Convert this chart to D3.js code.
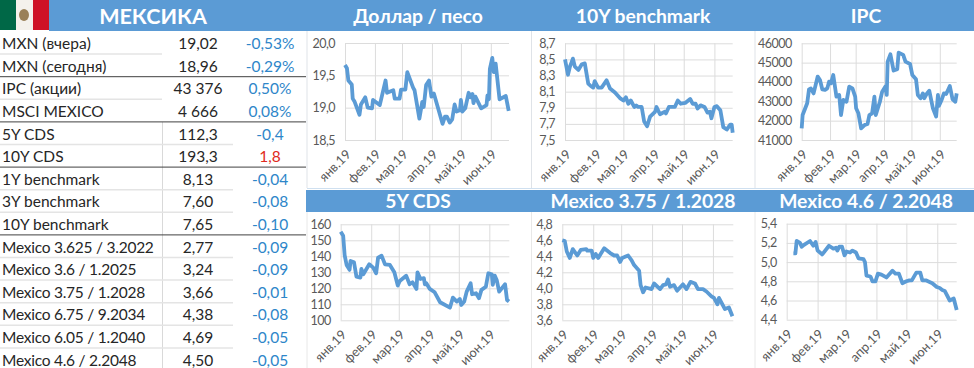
<!DOCTYPE html>
<html>
<head>
<meta charset="utf-8">
<script src="https://cdn.jsdelivr.net/npm/d3@7"></script>
<style>
  body { margin: 0; background: #fff; }
  svg { display: block; font-family: Lato, sans-serif; }
</style>
</head>
<body>
<svg id="chart" width="974" height="368"></svg>
<script>
const rowLabels = ["MXN (вчера)", "MXN (сегодня)", "IPC (акции)", "MSCI MEXICO", "5Y CDS", "10Y CDS",
  "1Y benchmark", "3Y benchmark", "10Y benchmark", "Mexico 3.625 / 3.2022", "Mexico 3.6 / 1.2025",
  "Mexico 3.75 / 1.2028", "Mexico 6.75 / 9.2034", "Mexico 6.05 / 1.2040", "Mexico 4.6 / 2.2048"];
const rowValues = ["19,02", "18,96", "43 376", "4 666", "112,3", "193,3", "8,13", "7,60", "7,65",
  "2,77", "3,24", "3,66", "4,38", "4,69", "4,50"];
const rowChanges = ["-0,53%", "-0,29%", "0,50%", "0,08%", "-0,4", "1,8", "-0,04", "-0,08", "-0,10",
  "-0,09", "-0,09", "-0,01", "-0,08", "-0,05", "-0,05"];
const groupEnds = [1, 3, 5, 8];

const monthDays = [0, 31, 59, 90, 120, 151];
const monthLabels = ["янв.19", "фев.19", "мар.19", "апр.19", "май.19", "июн.19"];

const usdDays = [0, 2, 3.5, 7, 8, 10, 15, 16.5, 21, 23.5, 28, 29, 36, 42, 43.5, 50, 51.5, 56.5, 58, 62.5, 64.5, 70.5, 72, 77, 80, 81.5, 84, 87, 89.5, 92, 101, 103.5, 105.5, 108.5, 111, 113.5, 115.5, 119, 120, 121.5, 124.5, 128, 130, 132, 133, 135, 141, 146.5, 147.5, 149, 150, 152.5, 154, 156, 160, 166.5, 169.5];
const usdValues = [19.66, 19.61, 19.42, 19.36, 19.14, 19.09, 18.89, 19.05, 19.16, 19.00, 18.99, 19.12, 19.04, 19.42, 19.23, 19.27, 19.14, 19.14, 19.28, 19.28, 19.55, 19.31, 19.27, 18.83, 19.09, 19.01, 19.35, 19.42, 19.17, 19.22, 18.75, 18.86, 18.86, 18.77, 18.82, 19.05, 18.94, 18.96, 19.12, 18.94, 18.99, 19.23, 19.16, 19.21, 19.07, 19.17, 18.99, 19.04, 19.19, 19.13, 19.60, 19.77, 19.55, 19.68, 19.13, 19.18, 18.95];

const bench10Days = [0, 3, 5, 8, 10, 13.5, 17, 20, 23.5, 26, 28.5, 30, 33.5, 37, 42, 45.5, 50.5, 55.5, 59, 61.5, 64, 66.5, 70, 72, 74, 77.5, 80, 83, 86, 91, 92.5, 96, 100.5, 102, 105, 111, 114, 117, 121.5, 126.5, 129, 132, 134, 137, 141, 144, 146.5, 148, 151, 153.5, 157, 160, 163.5, 167, 168.5, 169.5];
const bench10Values = [8.50, 8.31, 8.41, 8.51, 8.41, 8.37, 8.44, 8.45, 8.20, 8.17, 8.15, 8.23, 8.15, 8.15, 8.24, 8.14, 8.09, 8.02, 7.99, 8.03, 7.95, 7.99, 7.91, 7.93, 7.91, 7.91, 7.73, 7.67, 7.79, 7.85, 7.91, 7.82, 7.85, 7.83, 7.91, 7.91, 7.99, 7.95, 7.96, 8.01, 7.95, 7.95, 7.89, 7.93, 7.91, 7.84, 7.85, 7.77, 7.91, 7.92, 7.87, 7.66, 7.63, 7.69, 7.69, 7.59];

const ipcDays = [0, 1, 6, 8, 10, 13, 17.5, 20, 22.5, 25.5, 28, 30, 32, 34.5, 38, 41, 43, 45.5, 49, 52, 55.5, 58.5, 59.5, 62, 65, 69, 72, 74, 77, 79.5, 81, 85.5, 88, 91.5, 93, 94, 97, 100.5, 104.5, 106, 111, 113.5, 118.5, 121, 125, 127, 130, 132.5, 134, 137, 139.5, 143.5, 147, 149, 150, 153, 155.5, 158, 162, 165, 168, 169.5];
const ipcValues = [41600, 42290, 42900, 43620, 43670, 43410, 44280, 44100, 43620, 43590, 43670, 44020, 43930, 44360, 43240, 43330, 42290, 43070, 42980, 43760, 43670, 43240, 42640, 42380, 41600, 41780, 41830, 42290, 42380, 43240, 42290, 42980, 43500, 43760, 43330, 45050, 45430, 44590, 44660, 45520, 45400, 45050, 44930, 44360, 44140, 43330, 43160, 43410, 43160, 43410, 43550, 42640, 42210, 43330, 42760, 43070, 43410, 43380, 43790, 43100, 42980, 43410];

const cds5Days = [0, 2.5, 4, 6, 9, 10, 13.5, 16, 20, 21, 23, 29, 33, 36, 38, 41.5, 45, 50, 54.5, 58, 60, 66.5, 70, 73, 77, 78, 81, 84.5, 85.5, 87, 90.5, 95.5, 101, 111, 114, 118, 121, 122.5, 125.5, 128, 132, 133.5, 137.5, 140.5, 143, 147.5, 150, 153.5, 154.5, 156.5, 158.5, 161, 167, 169, 171];
const cds5Values = [155.4, 152.9, 140.8, 134.6, 131.5, 137.1, 136.3, 127.3, 126.7, 132.1, 128.8, 135, 132.9, 129.4, 139.2, 140.4, 135, 134.6, 130, 121.7, 124.6, 127.9, 122.5, 123.8, 119.6, 130, 125.8, 126.3, 122.5, 123.1, 119.6, 117.5, 111.3, 107.9, 114.2, 111.7, 113.3, 109.6, 111.7, 117.9, 123.1, 116.3, 116.9, 113.8, 119, 121, 129.4, 128.8, 122.1, 127.9, 125.2, 117.9, 122.5, 112.7, 111.7];

const m2028Days = [0, 2.5, 4.5, 7.5, 10.5, 15, 18.5, 24, 25, 29.5, 31, 33.5, 36, 42, 48, 52, 55, 58, 60, 66, 69.5, 72, 77, 78.5, 81, 83.5, 89.5, 92, 98, 101, 104, 106, 108, 112, 115, 121, 124.5, 128.5, 133, 136, 141, 144.5, 149.5, 152, 155.5, 157, 163, 167, 170.5];
const m2028Values = [4.60, 4.59, 4.46, 4.38, 4.49, 4.41, 4.48, 4.49, 4.47, 4.47, 4.38, 4.43, 4.38, 4.50, 4.44, 4.41, 4.41, 4.33, 4.38, 4.41, 4.35, 4.29, 4.22, 4.04, 3.95, 4.01, 3.99, 4.06, 3.99, 4.04, 4.05, 4.11, 4.02, 4.04, 3.97, 4.05, 3.99, 4.08, 4.06, 3.99, 3.99, 3.96, 3.90, 3.88, 3.80, 3.88, 3.74, 3.76, 3.65];

const m2048Days = [6.7, 8.7, 10, 13.4, 15, 17.4, 23.4, 26.7, 29, 31, 35.7, 42.4, 46.8, 49.4, 50.8, 52.8, 55.5, 58, 60, 63.5, 66, 69.5, 72, 77, 78.5, 80, 84, 86, 89, 91.5, 95, 100, 106, 109, 112.5, 116, 120, 123, 125.5, 130, 134, 136, 139.5, 146, 150.5, 153.5, 156, 158.5, 163.5, 167.5, 170.5];
const m2048Values = [5.09, 5.09, 5.22, 5.20, 5.16, 5.18, 5.22, 5.17, 5.21, 5.12, 5.08, 5.17, 5.14, 5.15, 5.12, 5.16, 5.16, 5.07, 5.11, 5.10, 5.12, 5.10, 5.04, 5.03, 5.00, 4.86, 4.85, 4.80, 4.80, 4.88, 4.87, 4.84, 4.91, 4.88, 4.88, 4.78, 4.80, 4.81, 4.81, 4.89, 4.89, 4.81, 4.81, 4.78, 4.74, 4.73, 4.71, 4.70, 4.60, 4.62, 4.50];

const blue = "#5b9bd5";
const svg = d3.select("#chart");

// header bands
svg.append("rect").attr("x", 49).attr("y", 0).attr("width", 925).attr("height", 31).attr("fill", blue);
svg.append("rect").attr("x", 306).attr("y", 190).attr("width", 668).attr("height", 22).attr("fill", blue);

// flag
const flag = svg.append("g");
flag.append("rect").attr("width", 16).attr("height", 30).attr("fill", "#006847");
flag.append("rect").attr("x", 16).attr("width", 17).attr("height", 30).attr("fill", "#f4f1ec");
flag.append("rect").attr("x", 33).attr("width", 16).attr("height", 30).attr("fill", "#ce1126");
flag.append("ellipse").attr("cx", 24).attr("cy", 15).attr("rx", 5).attr("ry", 6).attr("fill", "#9a8058");

svg.append("text").attr("x", 153).attr("y", 16).attr("dy", "0.36em").attr("text-anchor", "middle")
  .attr("fill", "#fff").attr("font-size", 21.5).attr("font-weight", 700).text("МЕКСИКА");

// table
const rowH = 22.6, tableTop = 31.5;
const rowY = (i) => tableTop + i * rowH;

const table = svg.append("g");
table.append("line").attr("x1", 162.5).attr("x2", 162.5).attr("y1", rowY(4)).attr("y2", 368).attr("stroke", "#d9d9d9");
rowLabels.forEach((label, i) => {
  const dark = groupEnds.includes(i);
  if (i < rowLabels.length - 1) {
    table.append("line")
      .attr("x1", 0)
      .attr("x2", dark ? 306 : i < 4 ? 162 : 233)
      .attr("y1", rowY(i + 1)).attr("y2", rowY(i + 1))
      .attr("stroke", dark ? "#404040" : "#e4e4e4")
      .attr("stroke-width", dark ? 1 : 1.5);
  }
  const cy = rowY(i) + rowH / 2 + 1;
  // Lato digits run wider than the original face, so the bond rows get tightened
  table.append("text").attr("x", 2).attr("y", cy).attr("dy", "0.35em")
    .attr("font-size", 15.5).attr("fill", "#262626")
    .attr("letter-spacing", i >= 9 ? -0.25 : 0).text(label);
  table.append("text").attr("x", 198).attr("y", cy).attr("dy", "0.35em").attr("text-anchor", "middle")
    .attr("font-size", 15.5).attr("fill", "#262626").text(rowValues[i]);
  table.append("text").attr("x", 270).attr("y", cy).attr("dy", "0.35em").attr("text-anchor", "middle")
    .attr("font-size", 15.5).attr("fill", rowChanges[i] === "1,8" ? "#e02b20" : "#2e86c9").text(rowChanges[i]);
});

// card borders
[307, 531.5, 755].forEach((x) => {
  svg.append("line").attr("x1", x).attr("x2", x).attr("y1", 31).attr("y2", 188).attr("stroke", "#dfe3e8");
  svg.append("line").attr("x1", x).attr("x2", x).attr("y1", 212).attr("y2", 368).attr("stroke", "#e8e8e8");
});
svg.append("line").attr("x1", 307).attr("x2", 974).attr("y1", 188.5).attr("y2", 188.5).attr("stroke", "#cfe0f0");

function drawPanel(p) {
  svg.append("text").attr("x", p.titleX).attr("y", p.titleY).attr("dy", "0.36em").attr("text-anchor", "middle")
    .attr("fill", "#fff").attr("font-size", 19.3).attr("font-weight", 700).text(p.title);

  const x = d3.scaleLinear().domain([0, p.lastDay]).range([p.left, p.right]);
  const y = d3.scaleLinear().domain(p.domain).range([p.bottom, p.top]);
  const g = svg.append("g");

  const yAxis = g.append("g").attr("transform", `translate(${p.left},0)`)
    .call(d3.axisLeft(y).tickValues(p.ticks).tickFormat(p.format).tickSize(-(p.right - p.left)).tickPadding(10));
  const xAxis = g.append("g").attr("transform", `translate(0,${p.bottom})`)
    .call(d3.axisBottom(x).tickValues(monthDays).tickFormat((d, i) => monthLabels[i]).tickSize(p.top - p.bottom).tickPadding(0));

  [yAxis, xAxis].forEach((a) => {
    a.select(".domain").remove();
    a.selectAll("line").attr("stroke", "#dcdcdc");
    a.selectAll("text").attr("fill", "#595959").attr("font-family", "Lato, sans-serif");
  });
  yAxis.selectAll("text").attr("font-size", 12.5).attr("letter-spacing", -0.5);
  xAxis.selectAll("text")
    .attr("font-size", 13)
    .attr("text-anchor", "end")
    .attr("y", 0).attr("dy", "0.35em")
    .attr("transform", "translate(3,12) rotate(-45)");

  const line = d3.line().x((d) => x(d[0])).y((d) => y(d[1]));
  g.append("path")
    .datum(d3.zip(p.days, p.values))
    .attr("fill", "none")
    .attr("stroke", blue)
    .attr("stroke-width", 3.8)
    .attr("stroke-linejoin", "round")
    .attr("d", line);
}

const oneDec = (d) => d3.format(".1f")(d).replace(".", ",");

drawPanel({ title: "Доллар / песо", titleX: 418, titleY: 16, left: 345, right: 509, top: 43, bottom: 140,
  lastDay: 169.8, domain: [18.5, 20], ticks: [18.5, 19, 19.5, 20], format: oneDec, days: usdDays, values: usdValues });
drawPanel({ title: "10Y benchmark", titleX: 643, titleY: 16, left: 565, right: 732.7, top: 43.3, bottom: 140,
  lastDay: 169.5, domain: [7.5, 8.7], ticks: [7.5, 7.7, 7.9, 8.1, 8.3, 8.5, 8.7], format: oneDec, days: bench10Days, values: bench10Values });
drawPanel({ title: "IPC", titleX: 866, titleY: 16, left: 801.7, right: 956.7, top: 43.3, bottom: 140,
  lastDay: 169.5, domain: [41000, 46000], ticks: [41000, 42000, 43000, 44000, 45000, 46000], format: d3.format("d"), days: ipcDays, values: ipcValues });
drawPanel({ title: "5Y CDS", titleX: 418, titleY: 201, left: 340.7, right: 509.3, top: 224.3, bottom: 320.3,
  lastDay: 171.3, domain: [100, 160], ticks: [100, 110, 120, 130, 140, 150, 160], format: d3.format("d"), days: cds5Days, values: cds5Values });
drawPanel({ title: "Mexico 3.75 / 1.2028", titleX: 643, titleY: 201, left: 562.3, right: 733.3, top: 224.3, bottom: 320.3,
  lastDay: 171.4, domain: [3.6, 4.8], ticks: [3.6, 3.8, 4.0, 4.2, 4.4, 4.6, 4.8], format: oneDec, days: m2028Days, values: m2028Values });
drawPanel({ title: "Mexico 4.6 / 2.2048", titleX: 866, titleY: 201, left: 786.7, right: 956.7, top: 223.7, bottom: 319.7,
  lastDay: 170.5, domain: [4.4, 5.4], ticks: [4.4, 4.6, 4.8, 5.0, 5.2, 5.4], format: oneDec, days: m2048Days, values: m2048Values });
</script>
</body>
</html>
